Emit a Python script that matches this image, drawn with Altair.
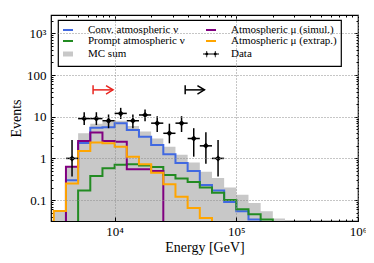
import math
import altair as alt
import pandas as pd

# ---------------- values ----------------
# histogram bin edges, log10(E / GeV)
edges_log = [3.5, 3.6, 3.7, 3.8, 3.9, 4.0, 4.1, 4.2, 4.3, 4.4,
             4.5, 4.6, 4.7, 4.8, 4.9, 5.0, 5.1, 5.2, 5.3, 5.4]

conv   = [None, 0.30, 2.35, 5.4, 5.6, 7.0, 4.8, 3.3, 2.1, 1.25,
          0.78, 0.50, 0.23, 0.17, 0.090, 0.054, 0.034, None, None]
prompt = [None, None, 0.17, 0.38, 0.58, 0.70, 0.72, 0.68, 0.62, 0.40,
          0.33, 0.27, 0.20, 0.15, 0.10, 0.060, 0.046, 0.034, None]
mu_sim = [None, 0.63, 2.6, 4.2, 2.6, 2.5, 0.55, 0.55, 0.50, None,
          None, None, None, None, None, None, None, None, None]
mu_ext = [0.055, 0.25, 1.5, 2.4, 2.3, 1.9, 1.1, 0.72, 0.45, 0.24,
          0.12, 0.065, 0.037, None, None, None, None, None, None]
mc_sum = [0.058, 0.62, 4.0, 6.8, 7.7, 8.0, 6.0, 4.4, 3.0, 1.9,
          1.22, 0.80, 0.48, 0.34, 0.20, 0.135, 0.085, 0.054, 0.036]

data_n  = [None, 1, 9, 9, 8, 12, 8, 11, 7, 4, 7, 3, 2, 1,
           None, None, None, None, None]
data_lo = [None, 0.37, 6.3, 6.3, 5.3, 8.8, 5.3, 7.8, 4.3, 2.3, 4.3, 1.1, 0.74, 0.37,
           None, None, None, None, None]
data_hi = [None, 2.75, 12.8, 12.8, 11.3, 16.3, 11.3, 14.8, 10.3, 6.8, 10.3, 5.3, 4.25, 2.75,
           None, None, None, None, None]

# threshold arrows (energy start, energy end, events level, colour)
arrow_start = [6650, 38000]
arrow_end = [9700, 54700]
arrow_level = [44, 44]
arrow_color = ["#e8251f", "#000000"]

x_major = [1e4, 1e5, 1e6]
x_major_labels = ["10⁴", "10⁵", "10⁶"]
x_minor = [4000, 5000, 6000, 7000, 8000, 9000,
           20000, 30000, 40000, 50000, 60000, 70000, 80000, 90000,
           200000, 300000, 400000, 500000, 600000, 700000, 800000, 900000]
y_major = [0.1, 1, 10, 100, 1000]
y_major_labels = ["0.1", "1", "10", "100", "10³"]
y_minor = [0.04, 0.05, 0.06, 0.07, 0.08, 0.09,
           0.2, 0.3, 0.4, 0.5, 0.6, 0.7, 0.8, 0.9,
           2, 3, 4, 5, 6, 7, 8, 9,
           20, 30, 40, 50, 60, 70, 80, 90,
           200, 300, 400, 500, 600, 700, 800, 900, 2000]

# legend entries, column by column
legend_names = ["Conv. atmospheric ν", "Prompt atmospheric ν", "MC sum",
                "Atmospheric μ (simul.)", "Atmospheric μ (extrap.)", "Data"]

# ---------------- style ----------------
C_CONV, C_PROMPT, C_SIM, C_EXT = "#4169e1", "#228b22", "#800080", "#ffa500"
C_MC = "#c8c8c8"
FONT = "Liberation Serif"
W, H = 307, 206
FLOOR = 1e-4  # histogram drop line (below visible range, clipped)
NONE = "rgba(0,0,0,0)"

xscale = alt.Scale(type="log", domain=[3000, 1e6], nice=False)
yscale = alt.Scale(type="log", domain=[0.0315, 2750], nice=False)


def label_expr(vals, labs):
    expr = "''"
    for v, l in reversed(list(zip(vals, labs))):
        expr = f"abs(log(datum.value)/LN10 - ({math.log10(v):.4f})) < 0.01 ? '{l}' : {expr}"
    return expr


def step_rows(vals):
    rows, order, i, n = [], 0, 0, len(vals)
    while i < n:
        if vals[i] is None:
            i += 1
            continue
        j = i
        while j + 1 < n and vals[j + 1] is not None:
            j += 1
        pts = [(edges_log[i], FLOOR)] + [(edges_log[k], vals[k]) for k in range(i, j + 1)]
        pts += [(edges_log[j + 1], vals[j]), (edges_log[j + 1], FLOOR)]
        for lx, v in pts:
            rows.append({"E": 10 ** lx, "v": v, "o": order, "seg": i})
            order += 1
        i = j + 1
    return pd.DataFrame(rows)


tick_common = dict(domain=False, labels=False, grid=False, title=None,
                   tickColor="black", tickWidth=1)
ax_bottom_major = alt.Axis(orient="bottom", values=x_major,
                           labelExpr=label_expr(x_major, x_major_labels),
                           tickSize=4, offset=-4, domain=False, grid=True,
                           gridColor="#8c8c8c", gridDash=[1, 2], gridWidth=1,
                           tickColor="black", tickWidth=1, labelFlush=False,
                           labelFont=FONT, labelFontSize=13, labelColor="black",
                           labelPadding=4, title="Energy [GeV]", titleFont=FONT,
                           titleFontSize=14, titleFontWeight="normal",
                           titleColor="black", titlePadding=2, zindex=1)
ax_left_major = alt.Axis(orient="left", values=y_major,
                         labelExpr=label_expr(y_major, y_major_labels),
                         tickSize=4, offset=-4, domain=False, grid=True,
                         gridColor="#8c8c8c", gridDash=[1, 2], gridWidth=1,
                         tickColor="black", tickWidth=1, labelFlush=False,
                         labelFont=FONT, labelFontSize=13, labelColor="black",
                         labelPadding=5, title="Events", titleFont=FONT,
                         titleFontSize=14, titleFontWeight="normal",
                         titleColor="black", titlePadding=3, zindex=1)
ax_bottom_minor = alt.Axis(orient="bottom", values=x_minor, tickSize=2, offset=-2, **tick_common)
ax_left_minor = alt.Axis(orient="left", values=y_minor, tickSize=2, offset=-2, **tick_common)
ax_top_major = alt.Axis(orient="top", values=x_major, tickSize=4, offset=-4, **tick_common)
ax_right_major = alt.Axis(orient="right", values=y_major, tickSize=4, offset=-4, **tick_common)
ax_top_minor = alt.Axis(orient="top", values=x_minor, tickSize=2, offset=-2, **tick_common)
ax_right_minor = alt.Axis(orient="right", values=y_minor, tickSize=2, offset=-2, **tick_common)

# ---------------- MC sum (filled step) ----------------
mc_rows = [{"E": 10 ** edges_log[k], "v": mc_sum[k]} for k in range(len(mc_sum))]
mc_rows.append({"E": 10 ** edges_log[len(mc_sum)], "v": mc_sum[-1]})
mc_df = pd.DataFrame(mc_rows)
mc_df["base"] = FLOOR
mc_layer = alt.Chart(mc_df).mark_area(interpolate="step-after", color=C_MC, opacity=1,
                                      clip=True).encode(
    x=alt.X("E:Q", scale=xscale, axis=ax_bottom_major),
    y=alt.Y("v:Q", scale=yscale, axis=ax_left_major, stack=None),
    y2="base:Q",
)


def hist_line(vals, color, xaxis, yaxis):
    return alt.Chart(step_rows(vals)).mark_line(
        interpolate="step-after", color=color, strokeWidth=2, clip=True
    ).encode(
        x=alt.X("E:Q", scale=xscale, axis=xaxis),
        y=alt.Y("v:Q", scale=yscale, axis=yaxis),
        detail="seg:N",
        order="o:Q",
    )


conv_layer = hist_line(conv, C_CONV, ax_bottom_minor, ax_left_minor)
prompt_layer = hist_line(prompt, C_PROMPT, ax_top_major, ax_right_major)
sim_layer = hist_line(mu_sim, C_SIM, ax_top_minor, ax_right_minor)
ext_layer = hist_line(mu_ext, C_EXT, None, None)

# ---------------- data points ----------------
drows = []
for k, n in enumerate(data_n):
    if n is None:
        continue
    drows.append({"Elo": 10 ** edges_log[k], "Ehi": 10 ** edges_log[k + 1],
                  "Ec": 10 ** ((edges_log[k] + edges_log[k + 1]) / 2),
                  "n": n, "lo": data_lo[k], "hi": data_hi[k]})
ddf = pd.DataFrame(drows)
data_h = alt.Chart(ddf).mark_rule(color="black", strokeWidth=1.5, clip=True).encode(
    x=alt.X("Elo:Q", scale=xscale, axis=None), x2="Ehi:Q",
    y=alt.Y("n:Q", scale=yscale, axis=None))
data_v = alt.Chart(ddf).mark_rule(color="black", strokeWidth=1.5, clip=True).encode(
    x=alt.X("Ec:Q", scale=xscale, axis=None),
    y=alt.Y("lo:Q", scale=yscale, axis=None), y2="hi:Q")
data_p = alt.Chart(ddf).mark_point(shape="diamond", filled=True, color="black",
                                   size=36, opacity=1, clip=True).encode(
    x=alt.X("Ec:Q", scale=xscale, axis=None),
    y=alt.Y("n:Q", scale=yscale, axis=None))

# ---------------- threshold arrows ----------------
adf = pd.DataFrame({"s": arrow_start, "e": arrow_end, "lv": arrow_level, "c": arrow_color})
arrow_shaft = alt.Chart(adf).mark_rule(strokeWidth=1.5).encode(
    x=alt.X("s:Q", scale=xscale, axis=None), x2="e:Q",
    y=alt.Y("lv:Q", scale=yscale, axis=None),
    color=alt.Color("c:N", scale=None))
arrow_bar = alt.Chart(adf).mark_tick(orient="vertical", size=9, thickness=1.5, opacity=1).encode(
    x=alt.X("s:Q", scale=xscale, axis=None),
    y=alt.Y("lv:Q", scale=yscale, axis=None),
    color=alt.Color("c:N", scale=None))
arrow_head = alt.Chart(adf).mark_point(shape="M-1,-0.6L0,0L-1,0.6", filled=False,
                                       size=196, strokeWidth=1.5, opacity=1).encode(
    x=alt.X("e:Q", scale=xscale, axis=None),
    y=alt.Y("lv:Q", scale=yscale, axis=None),
    stroke=alt.Stroke("c:N", scale=None))

# ---------------- legend (library legend, fed by a clipped helper layer) ----------------
data_symbol = ("M-1.6,-0.08H1.6V0.08H-1.6Z "
               "M-0.93,-0.625H-0.77V0.625H-0.93Z M0.77,-0.625H0.93V0.625H0.77Z "
               "M-0.85,-0.4L-0.45,0L-0.85,0.4L-1.25,0Z M0.85,-0.4L1.25,0L0.85,0.4L0.45,0Z")
mc_symbol = "M-1,-0.5H1V0.5H-1Z"
leg = alt.Legend(orient="none", legendX=7, legendY=5, columns=2, title=None,
                 labelFont=FONT, labelFontSize=11, labelColor="black")
ldf = pd.DataFrame({"series": legend_names, "E": [3000] * 6, "v": [FLOOR] * 6})
legend_layer = alt.Chart(ldf).mark_point(size=256, opacity=1, clip=True).encode(
    x=alt.X("E:Q", scale=xscale, axis=None),
    y=alt.Y("v:Q", scale=yscale, axis=None),
    stroke=alt.Stroke("series:N", title=None, legend=leg, scale=alt.Scale(
        domain=legend_names, range=[C_CONV, C_PROMPT, NONE, C_SIM, C_EXT, NONE])),
    fill=alt.Fill("series:N", title=None, legend=leg, scale=alt.Scale(
        domain=legend_names, range=[NONE, NONE, C_MC, NONE, NONE, "#000000"])),
    shape=alt.Shape("series:N", title=None, legend=leg, scale=alt.Scale(
        domain=legend_names, range=["stroke", "stroke", mc_symbol, "stroke", "stroke", data_symbol])),
)

chart = alt.layer(
    mc_layer, conv_layer, prompt_layer, sim_layer, ext_layer,
    data_h, data_v, data_p, arrow_shaft, arrow_bar, arrow_head, legend_layer,
).resolve_axis(x="independent", y="independent").properties(
    width=W, height=H,
    autosize=alt.AutoSizeParams(type="none"),
    padding={"left": 43, "top": 7, "right": 8, "bottom": 34},
    background="white",
).configure_view(
    stroke="black", strokeWidth=1.2,
).configure_legend(
    labelFont=FONT, labelFontSize=11, labelColor="black",
    symbolStrokeWidth=2, padding=4, rowPadding=0, columnPadding=14,
    labelOffset=14, fillColor="white", strokeColor="black", strokeWidth=1.2,
    cornerRadius=0, symbolLimit=0,
)

chart.save("out.html", embed_options={"renderer": "svg", "actions": False})
